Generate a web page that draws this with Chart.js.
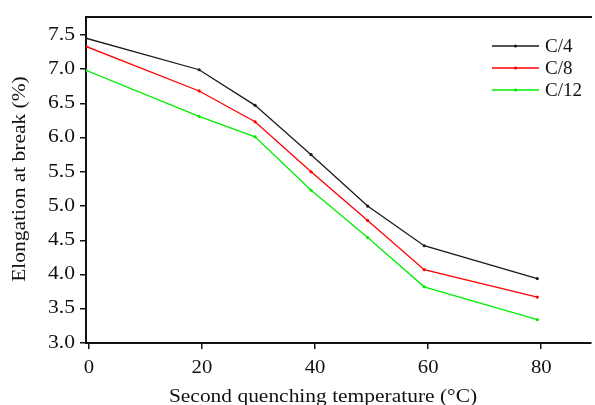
<!DOCTYPE html>
<html><head><meta charset="utf-8">
<script src="https://cdn.jsdelivr.net/npm/chart.js@4"></script>
<style>html,body{margin:0;padding:0;background:#fff}canvas{display:block}</style>
</head><body>
<canvas id="c" width="595" height="405"></canvas>
<script>
const temperatures = [-0.5, 19.5, 29.4, 39.3, 49.3, 59.3, 79.3];
const seriesNames = ['C/4', 'C/8', 'C/12'];
const seriesColors = ['#1a1a1a', '#ff0000', '#00ee00'];
const c4Values = [7.45, 6.99, 6.47, 5.75, 5.00, 4.42, 3.94];
const c8Values = [7.33, 6.68, 6.23, 5.50, 4.79, 4.07, 3.67];
const c12Values = [6.98, 6.31, 6.01, 5.23, 4.54, 3.82, 3.34];
const xTickValues = [0, 20, 40, 60, 80];
const yTickValues = [3.0, 3.5, 4.0, 4.5, 5.0, 5.5, 6.0, 6.5, 7.0, 7.5];
const xTitle = 'Second quenching temperature (\u00B0C)';
const yTitle = 'Elongation at break (%)';

const FONT = '"Liberation Serif", "Times New Roman", serif';
const allValues = [c4Values, c8Values, c12Values];

const datasets = seriesNames.map((n, i) => ({
  label: n,
  data: temperatures.map((t, j) => ({x: t, y: allValues[i][j]})),
  borderColor: seriesColors[i],
  backgroundColor: seriesColors[i],
  pointBackgroundColor: seriesColors[i],
  pointBorderWidth: 0,
  pointRadius: 1.6,
  borderWidth: 1.3,
  tension: 0
}));

function stretchedText(ctx, text, x, y, align, sx, size, rot) {
  ctx.save();
  ctx.translate(x, y);
  if (rot) ctx.rotate(rot);
  ctx.scale(sx, 1);
  ctx.font = size + 'px ' + FONT;
  ctx.fillStyle = '#111';
  ctx.textAlign = align;
  ctx.textBaseline = 'middle';
  ctx.fillText(text, 0, 0);
  ctx.restore();
}

const extras = {
  id: 'extras',
  afterDraw(chart) {
    const ctx = chart.ctx;
    const xs = chart.scales.x, ys = chart.scales.y;
    // tick labels
    xTickValues.forEach(v => stretchedText(ctx, String(v), xs.getPixelForValue(v), 368, 'center', 1.15, 18, 0));
    yTickValues.forEach(v => stretchedText(ctx, v.toFixed(1), 75, ys.getPixelForValue(v), 'right', 1.2, 18, 0));
    // axis titles
    stretchedText(ctx, xTitle, 323, 397, 'center', 1.1, 19.5, 0);
    stretchedText(ctx, yTitle, 20, 179, 'center', 1.1, 19.5, -Math.PI / 2);
    // legend
    seriesNames.forEach((n, i) => {
      const y = 46 + i * 22;
      ctx.save();
      ctx.strokeStyle = seriesColors[i];
      ctx.lineWidth = 1.3;
      ctx.beginPath(); ctx.moveTo(492, y); ctx.lineTo(539, y); ctx.stroke();
      ctx.fillStyle = seriesColors[i];
      ctx.beginPath(); ctx.arc(515.5, y, 1.6, 0, Math.PI * 2); ctx.fill();
      ctx.restore();
      stretchedText(ctx, n, 545, y + 1, 'left', 1.0, 19, 0);
    });
  }
};

new Chart(document.getElementById('c'), {
  type: 'line',
  data: { datasets },
  options: {
    responsive: false,
    animation: false,
    layout: { padding: 0 },
    plugins: { legend: { display: false }, tooltip: { enabled: false } },
    scales: {
      x: {
        type: 'linear', position: 'bottom', min: -0.5, max: 88.8,
        afterBuildTicks: s => { s.ticks = xTickValues.map(v => ({value: v})); },
        afterFit: s => { s.height = 62; },
        grid: { drawOnChartArea: false, drawTicks: true, tickLength: 6, color: '#111', lineWidth: 1.5 },
        border: { display: true, color: '#111', width: 2 },
        ticks: { display: false }
      },
      xTop: {
        type: 'linear', position: 'top', min: -0.5, max: 88.8,
        afterFit: s => { s.height = 17; },
        grid: { display: false, drawTicks: false },
        border: { display: true, color: '#111', width: 2 },
        ticks: { display: false }
      },
      y: {
        type: 'linear', position: 'left', min: 3.0, max: 7.76,
        afterBuildTicks: s => { s.ticks = yTickValues.map(v => ({value: v})); },
        afterFit: s => { s.width = 86; },
        grid: { drawOnChartArea: false, drawTicks: true, tickLength: 6, color: '#111', lineWidth: 1.5 },
        border: { display: true, color: '#111', width: 2 },
        ticks: { display: false }
      }
    }
  },
  plugins: [extras]
});
</script>
</body></html>
